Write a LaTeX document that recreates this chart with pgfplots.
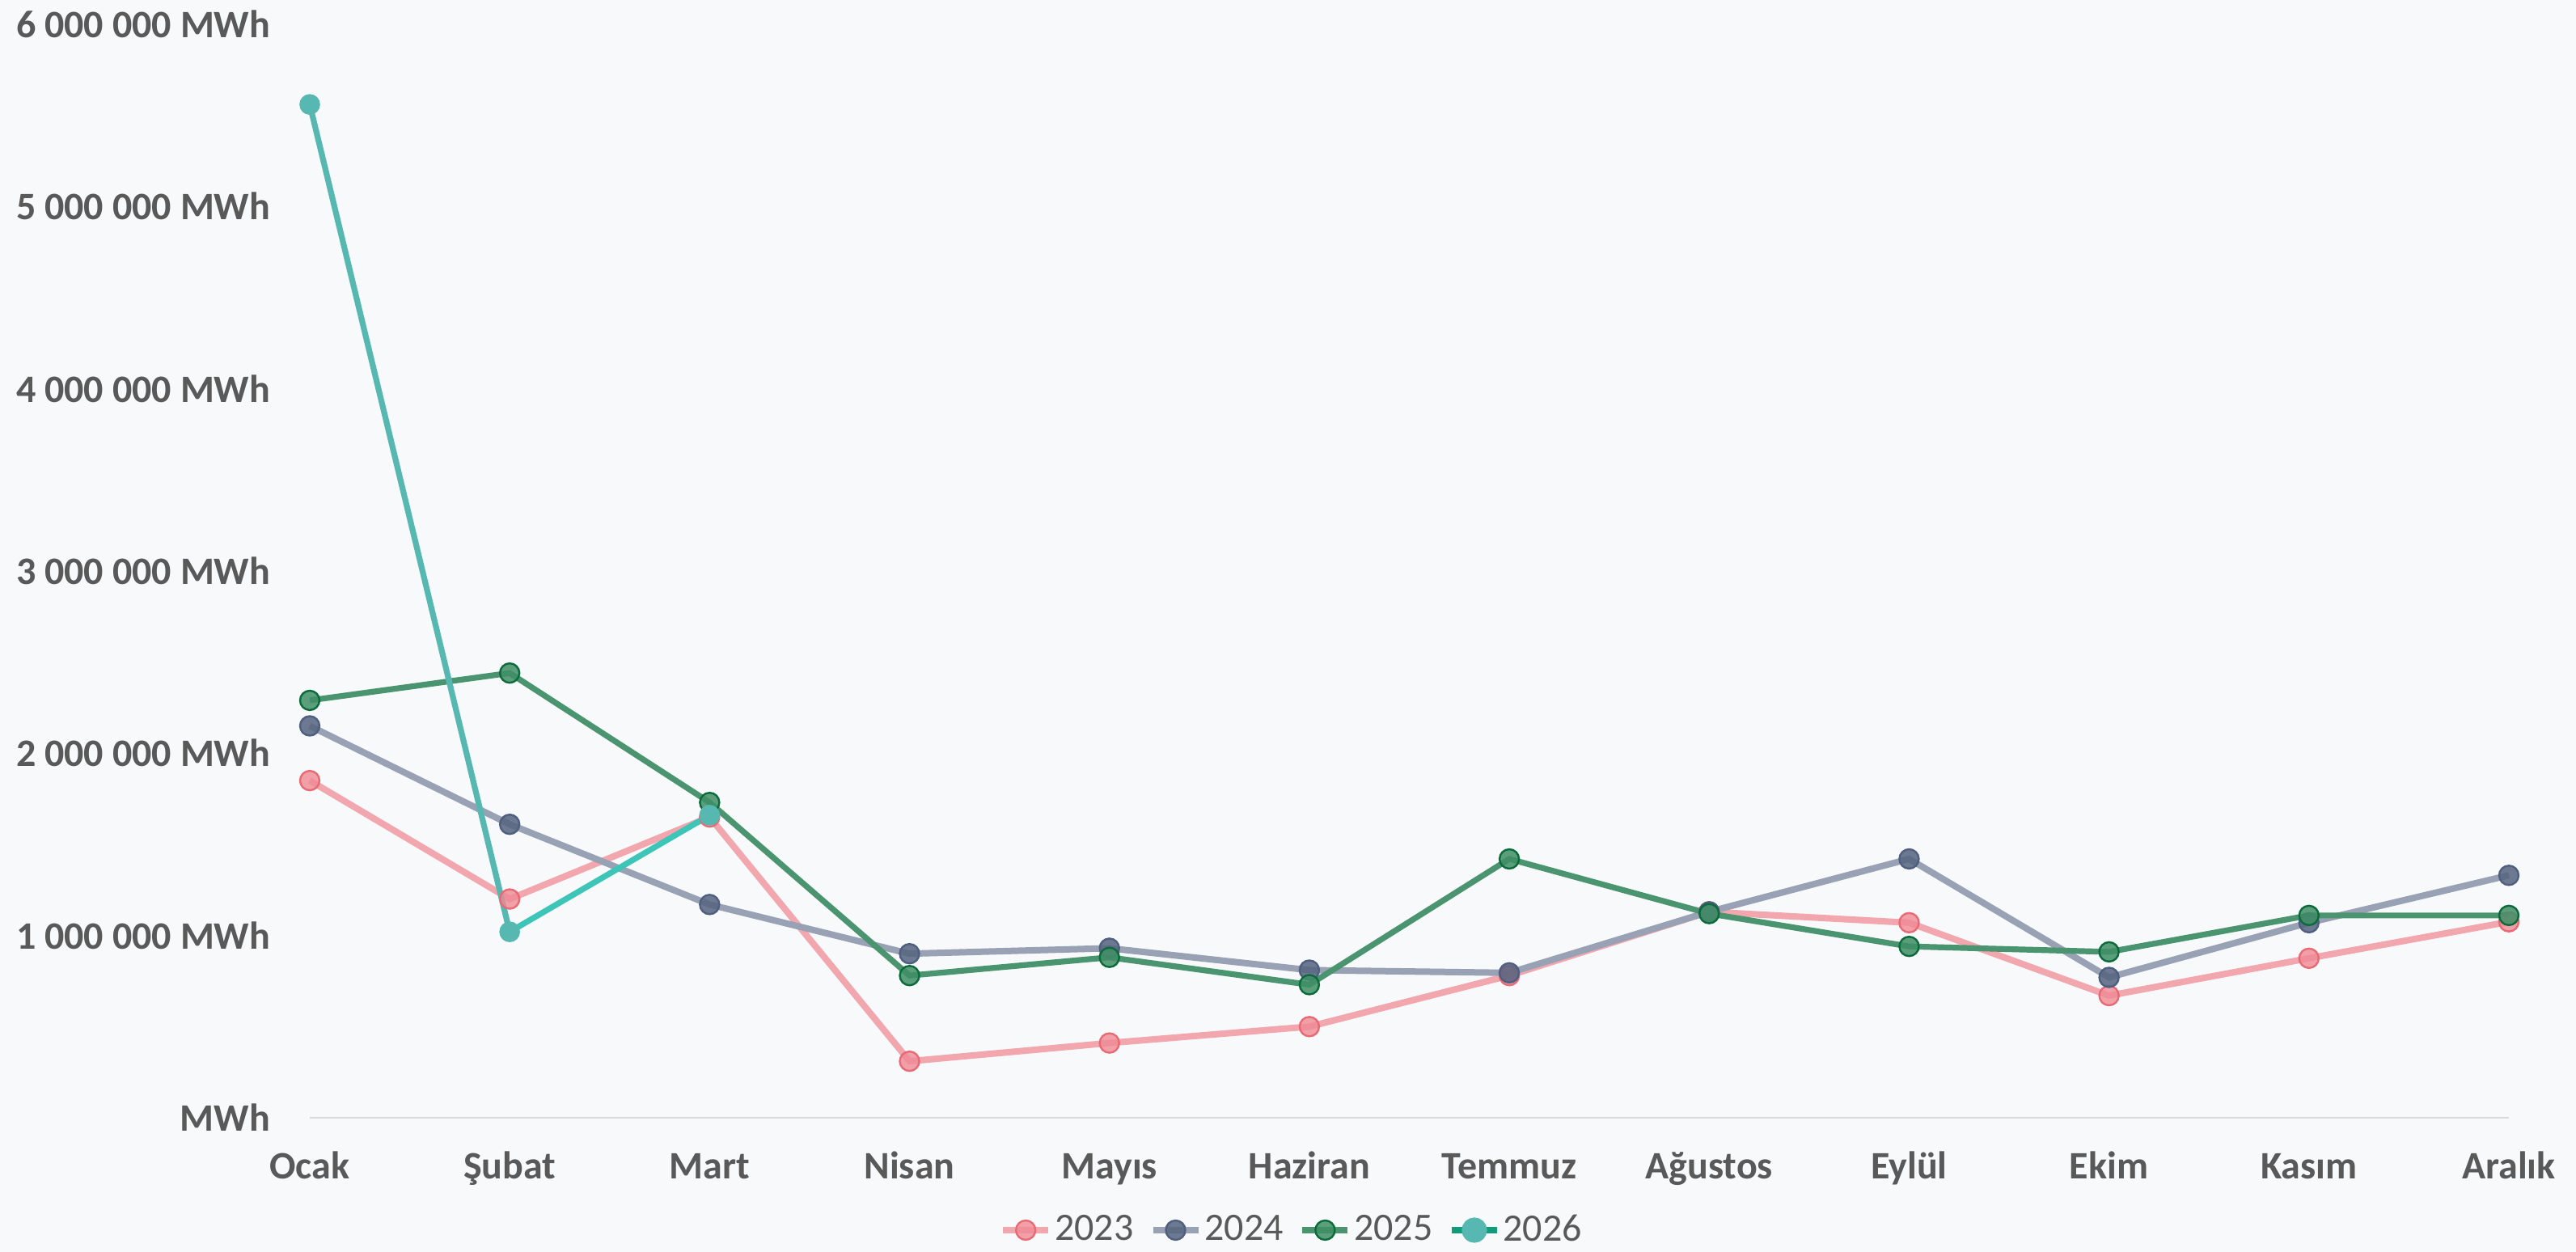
\documentclass[border=0pt]{standalone}
\usepackage{pgfplots}
\pgfplotsset{compat=1.18}
\usepackage{fontspec}
\setmainfont{Carlito}
\definecolor{bg}{HTML}{F7F9FB}
\definecolor{labelgray}{HTML}{595959}
\definecolor{axisgray}{HTML}{D9D9D9}
\definecolor{l23}{HTML}{F2A6AE}
\definecolor{m23}{HTML}{F08A94}
\definecolor{b23}{HTML}{E86A75}
\definecolor{l24}{HTML}{98A2B4}
\definecolor{m24}{HTML}{56637F}
\definecolor{b24}{HTML}{4F5F80}
\definecolor{l25}{HTML}{4A9470}
\definecolor{m25}{HTML}{3F8F66}
\definecolor{b25}{HTML}{0B6B3A}
\definecolor{l26}{HTML}{57B8B1}
\definecolor{l26b}{HTML}{3DC5B8}
\definecolor{lg26}{HTML}{0E9C7A}
\begin{document}
\begin{tikzpicture}
\path[use as bounding box, fill=bg] (-95.75pt,-41.5pt) rectangle (700.5pt,345.5pt);
\begin{axis}[
  at={(0pt,0pt)}, anchor=south west,
  scale only axis, width=679.75pt, height=338pt,
  xmin=0, xmax=11, ymin=0, ymax=6000000,
  axis lines*=left,
  x axis line style={draw=axisgray, line width=0.5pt, -},
  y axis line style={draw=none},
  tick style={draw=none},
  major tick length=0pt,
  xtick={0,1,2,3,4,5,6,7,8,9,10,11},
  xticklabels={Ocak,Şubat,Mart,Nisan,Mayıs,Haziran,Temmuz,Ağustos,Eylül,Ekim,Kasım,Aralık},
  ytick={0,1000000,2000000,3000000,4000000,5000000,6000000},
  yticklabels={MWh,1 000 000 MWh,2 000 000 MWh,3 000 000 MWh,4 000 000 MWh,5 000 000 MWh,6 000 000 MWh},
  tick label style={font=\bfseries\fontsize{12}{14}\selectfont, text=labelgray},
  xticklabel style={anchor=base, yshift=-19pt},
  yticklabel style={anchor=east, inner sep=0pt, xshift=-12pt},
  scaled y ticks=false,
  clip=false,
  legend columns=4,
  legend style={at={(axis description cs:0.4476,0)}, anchor=center, yshift=-34.75pt,
    draw=none, fill=none, font=\fontsize{12}{14}\selectfont, text=labelgray,
    /tikz/every even column/.append style={column sep=3pt},
    /tikz/every odd column/.append style={column sep=-1pt}},
  legend image code/.code={\draw[mark repeat=2,mark phase=2,#1] plot coordinates {(0pt,0pt) (7pt,0pt) (14pt,0pt)};},
]
\addplot[color=l23, line width=2pt, mark=*, mark size=3pt,
  mark options={fill=m23, draw=b23, fill opacity=0.8, line width=0.6pt}]
  coordinates {(0,1850000) (1,1200000) (2,1650000) (3,310000) (4,410000) (5,500000)
               (6,780000) (7,1130000) (8,1070000) (9,670000) (10,875000) (11,1075000)};
\addlegendentry{2023}
\addplot[color=l24, line width=2pt, mark=*, mark size=3pt,
  mark options={fill=m24, draw=b24, fill opacity=0.85, line width=0.6pt}]
  coordinates {(0,2150000) (1,1610000) (2,1170000) (3,900000) (4,930000) (5,810000)
               (6,795000) (7,1130000) (8,1420000) (9,770000) (10,1070000) (11,1330000)};
\addlegendentry{2024}
\addplot[color=l25, line width=1.8pt, mark=*, mark size=3pt,
  mark options={fill=m25, draw=b25, fill opacity=0.85, line width=0.6pt}]
  coordinates {(0,2290000) (1,2440000) (2,1730000) (3,780000) (4,880000) (5,730000)
               (6,1420000) (7,1120000) (8,940000) (9,910000) (10,1110000) (11,1110000)};
\addlegendentry{2025}
\addplot[color=l26b, line width=1.8pt, forget plot] coordinates {(1,1020000) (2,1660000)};
\addplot[color=l26, line width=1.8pt, forget plot] coordinates {(0,5560000) (1,1020000)};
\addplot[only marks, mark=*, mark size=3pt, mark options={fill=l26, draw=l26}, forget plot]
  coordinates {(0,5560000) (1,1020000) (2,1660000)};
\addlegendimage{color=lg26, line width=1.8pt, mark=*, mark size=3pt, mark options={fill=l26, draw=l26}}
\addlegendentry{2026}
\end{axis}
\end{tikzpicture}
\end{document}
